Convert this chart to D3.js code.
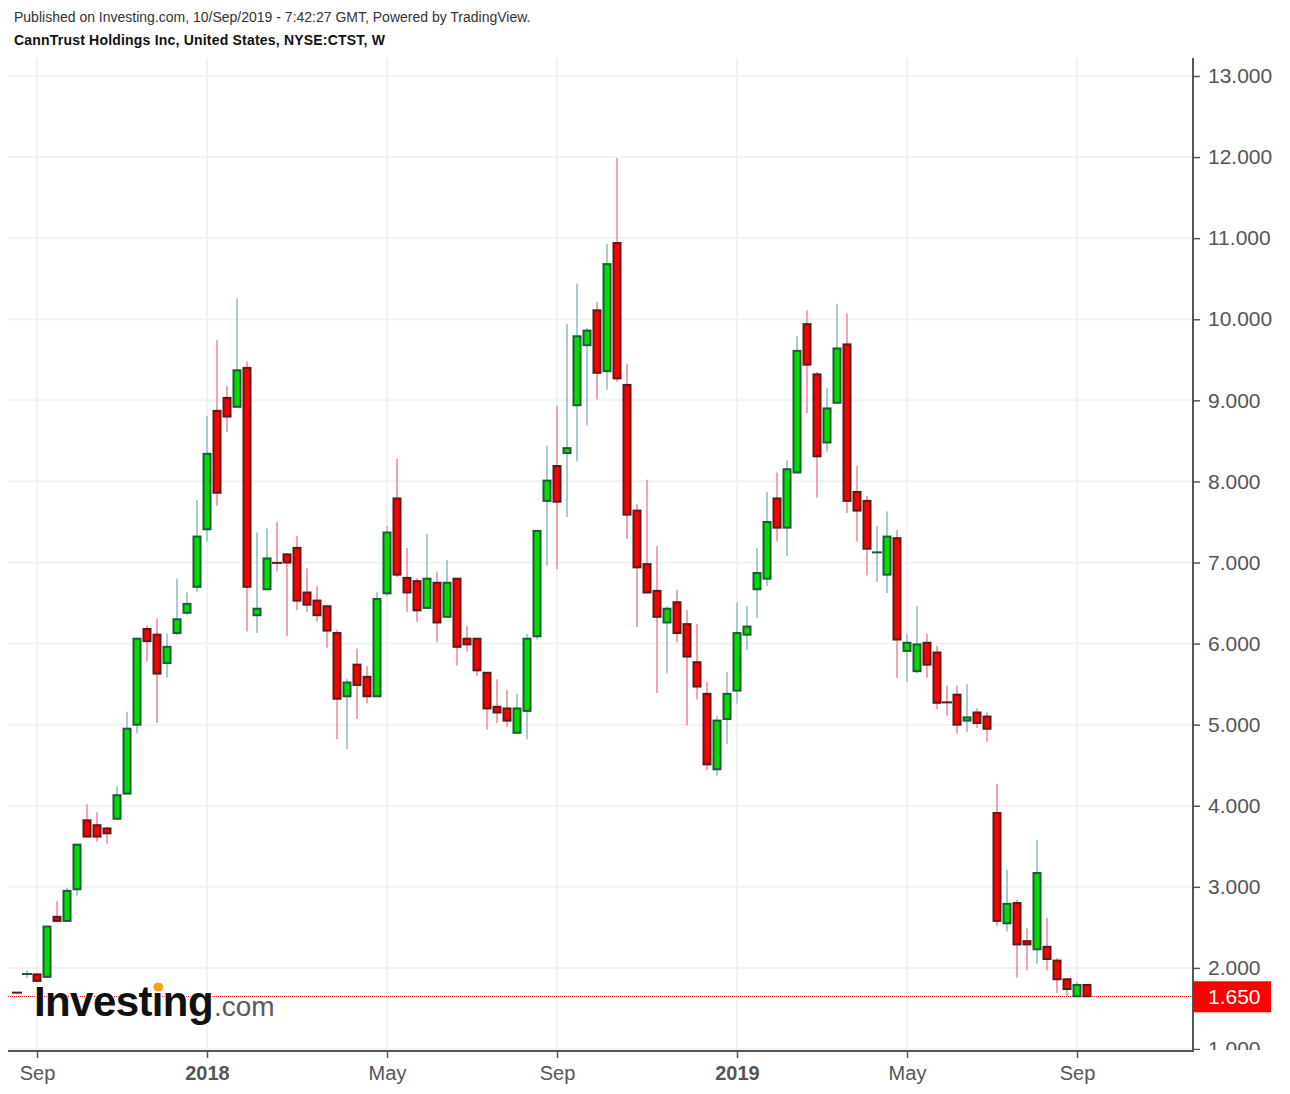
<!DOCTYPE html>
<html>
<head>
<meta charset="utf-8">
<script src="https://cdnjs.cloudflare.com/ajax/libs/d3/7.8.5/d3.min.js"></script>
<style>
  html, body { margin: 0; padding: 0; background: #ffffff; }
  svg { display: block; }
  text { font-family: Arial, "Liberation Sans", Helvetica, sans-serif; }
</style>
</head>
<body>
<svg id="chart" width="1290" height="1094"></svg>
<script>
// ---------------- DATA ----------------
const weeks = [
  "2017-08-21","2017-08-28","2017-09-04","2017-09-11","2017-09-18","2017-09-25","2017-10-02","2017-10-09","2017-10-16","2017-10-23",
  "2017-10-30","2017-11-06","2017-11-13","2017-11-20","2017-11-27","2017-12-04","2017-12-11","2017-12-18","2017-12-25","2018-01-01",
  "2018-01-08","2018-01-15","2018-01-22","2018-01-29","2018-02-05","2018-02-12","2018-02-19","2018-02-26","2018-03-05","2018-03-12",
  "2018-03-19","2018-03-26","2018-04-02","2018-04-09","2018-04-16","2018-04-23","2018-04-30","2018-05-07","2018-05-14","2018-05-21",
  "2018-05-28","2018-06-04","2018-06-11","2018-06-18","2018-06-25","2018-07-02","2018-07-09","2018-07-16","2018-07-23","2018-07-30",
  "2018-08-06","2018-08-13","2018-08-20","2018-08-27","2018-09-03","2018-09-10","2018-09-17","2018-09-24","2018-10-01","2018-10-08",
  "2018-10-15","2018-10-22","2018-10-29","2018-11-05","2018-11-12","2018-11-19","2018-11-26","2018-12-03","2018-12-10","2018-12-17",
  "2018-12-24","2018-12-31","2019-01-07","2019-01-14","2019-01-21","2019-01-28","2019-02-04","2019-02-11","2019-02-18","2019-02-25",
  "2019-03-04","2019-03-11","2019-03-18","2019-03-25","2019-04-01","2019-04-08","2019-04-15","2019-04-22","2019-04-29","2019-05-06",
  "2019-05-13","2019-05-20","2019-05-27","2019-06-03","2019-06-10","2019-06-17","2019-06-24","2019-07-01","2019-07-08","2019-07-15",
  "2019-07-22","2019-07-29","2019-08-05","2019-08-12","2019-08-19","2019-08-26","2019-09-02","2019-09-09"
];
const opens = [
  1.70,1.92,1.92,1.89,2.63,2.58,2.97,3.82,3.76,3.72,
  3.84,4.15,5.00,6.18,6.11,5.76,6.13,6.38,6.70,7.41,
  8.87,9.03,8.92,9.40,6.35,6.67,7.00,7.10,7.18,6.63,
  6.53,6.46,6.13,5.35,5.74,5.59,5.35,6.62,7.79,6.81,
  6.77,6.44,6.75,6.33,6.80,6.06,6.06,5.64,5.22,5.20,
  4.90,5.17,6.09,7.76,8.19,8.35,8.94,9.68,10.11,9.36,
  10.94,9.19,7.64,6.98,6.65,6.26,6.51,6.24,5.77,5.38,
  4.45,5.07,5.42,6.11,6.67,6.80,7.79,7.43,8.11,9.94,
  9.32,8.48,8.97,9.69,7.87,7.76,7.12,6.85,7.30,5.91,
  5.66,6.01,5.89,5.28,5.37,5.05,5.15,5.10,3.91,2.55,
  2.80,2.33,2.23,2.26,2.09,1.86,1.65,1.79
];
const highs = [
  1.70,1.97,1.93,2.52,2.82,2.99,3.53,4.02,3.92,3.74,
  4.24,5.16,6.06,6.22,6.31,6.12,6.80,6.63,7.77,8.81,
  9.74,9.18,10.26,9.48,7.37,7.42,7.50,7.11,7.33,6.93,
  6.71,6.47,6.17,5.57,5.94,5.72,6.64,7.45,8.28,7.18,
  6.81,7.35,6.89,7.03,6.81,6.22,6.07,5.65,5.56,5.43,
  5.38,6.12,7.40,8.44,8.93,9.94,10.44,9.89,10.21,10.93,
  11.99,9.45,7.72,8.02,7.20,6.46,6.66,6.41,6.24,5.53,
  5.11,5.65,6.51,6.46,7.18,7.87,8.11,8.26,9.79,10.11,
  9.35,9.15,10.19,10.07,8.19,7.82,7.45,7.63,7.40,6.12,
  6.46,6.12,5.97,5.48,5.48,5.50,5.20,5.15,4.27,3.21,
  2.84,2.49,3.58,2.62,2.12,1.87,1.83,1.79
];
const lows = [
  1.69,1.88,1.83,1.88,2.57,2.57,2.89,3.61,3.56,3.53,
  3.83,4.15,4.89,5.78,5.02,5.58,6.11,6.35,6.64,7.26,
  7.70,8.61,8.92,6.15,6.13,6.66,6.89,6.09,6.41,6.39,
  6.27,5.95,4.82,4.70,5.07,5.26,5.34,6.59,6.82,6.39,
  6.27,6.43,6.02,6.33,5.73,5.90,5.60,4.94,5.02,4.97,
  4.90,4.82,6.05,6.96,6.92,7.56,8.25,8.69,9.01,9.13,
  9.23,7.29,6.20,6.62,5.39,5.63,6.02,4.99,5.31,4.44,
  4.37,4.76,5.26,5.92,6.32,6.71,7.26,7.08,8.10,8.84,
  7.80,8.37,8.97,7.61,7.26,6.84,6.76,6.62,5.58,5.53,
  5.63,5.58,5.19,5.11,4.89,4.91,4.96,4.79,2.52,2.45,
  1.88,1.97,2.05,1.97,1.69,1.645,1.645,1.645
];
const closes = [
  1.69,1.93,1.84,2.51,2.58,2.95,3.52,3.62,3.62,3.66,
  4.13,4.95,6.06,6.03,5.63,5.96,6.30,6.49,7.32,8.34,
  7.86,8.80,9.37,6.70,6.43,7.05,6.99,7.00,6.53,6.48,
  6.35,6.16,5.32,5.52,5.49,5.35,6.55,7.37,6.85,6.63,
  6.41,6.80,6.26,6.75,5.96,5.99,5.67,5.20,5.15,5.05,
  5.20,6.06,7.39,8.01,7.75,8.41,9.79,9.86,9.34,10.68,
  9.27,7.59,6.94,6.63,6.33,6.43,6.13,5.84,5.47,4.51,
  5.05,5.38,6.13,6.21,6.87,7.50,7.43,8.15,9.61,9.44,
  8.31,8.90,9.64,7.76,7.64,7.17,7.13,7.32,6.05,6.01,
  5.99,5.74,5.27,5.27,5.00,5.09,5.02,4.95,2.58,2.79,
  2.29,2.29,3.17,2.11,1.86,1.74,1.79,1.65
];
const xTickWeeks  = ["2017-09-04","2018-01-01","2018-05-07","2018-09-03","2019-01-07","2019-05-06","2019-09-02"];
const xTickLabels = ["Sep","2018","May","Sep","2019","May","Sep"];
const xTickBold   = [false,true,false,false,true,false,false];
const yTickValues = [1,2,3,4,5,6,7,8,9,10,11,12,13];
const lastPrice = 1.650;
const headerLine1 = "Published on Investing.com, 10/Sep/2019 - 7:42:27 GMT, Powered by TradingView.";
const headerLine2 = "CannTrust Holdings Inc, United States, NYSE:CTST, W";

// ---------------- LAYOUT ----------------
const svg = d3.select("#chart");
const plot = { left: 8, right: 1193, top: 58, bottom: 1051 };

const x = d3.scaleLinear().domain([0, weeks.length - 1]).range([17, 1087]);
const y = d3.scaleLinear().domain([1, 13]).range([1049, 76]);

const data = weeks.map((w, i) => ({ i, w, o: opens[i], h: highs[i], l: lows[i], c: closes[i] }));
const idxOf = w => weeks.indexOf(w);

const COLORS = {
  upFill: "#00dd00", upStroke: "#1f5a3a", upWick: "#a8ccd3",
  dnFill: "#ff0000", dnStroke: "#5c1a18", dnWick: "#f3a4b0",
  grid: "#f2f2f2", axis: "#555555", text: "#555555"
};

// header
svg.append("text").attr("x", 14).attr("y", 22).attr("font-size", 14).attr("fill", "#333").text(headerLine1);
svg.append("text").attr("x", 14).attr("y", 45).attr("font-size", 14).attr("font-weight", "bold")
  .attr("letter-spacing", 0.2).attr("fill", "#111").text(headerLine2);

// clip
svg.append("clipPath").attr("id", "plotclip").append("rect")
  .attr("x", plot.left).attr("y", plot.top).attr("width", plot.right - plot.left).attr("height", plot.bottom - plot.top);

const grid = svg.append("g").attr("clip-path", "url(#plotclip)");
grid.selectAll("line.h").data(yTickValues).join("line")
  .attr("x1", plot.left).attr("x2", plot.right)
  .attr("y1", d => y(d)).attr("y2", d => y(d))
  .attr("stroke", COLORS.grid).attr("stroke-width", 2);
grid.selectAll("line.v").data(xTickWeeks).join("line")
  .attr("y1", plot.top).attr("y2", plot.bottom)
  .attr("x1", d => x(idxOf(d))).attr("x2", d => x(idxOf(d)))
  .attr("stroke", COLORS.grid).attr("stroke-width", 2);

// last price dotted line
grid.append("line")
  .attr("x1", plot.left).attr("x2", plot.right)
  .attr("y1", Math.round(y(lastPrice)) + 0.5).attr("y2", Math.round(y(lastPrice)) + 0.5)
  .attr("stroke", "#ff2020").attr("stroke-width", 1).attr("stroke-dasharray", "1,1");

// candles
const cg = svg.append("g").attr("clip-path", "url(#plotclip)");
const isUp = d => d.c >= d.o;
cg.selectAll("line.wick").data(data).join("line")
  .attr("x1", d => x(d.i)).attr("x2", d => x(d.i))
  .attr("y1", d => y(d.h)).attr("y2", d => y(d.l))
  .attr("stroke", d => isUp(d) ? COLORS.upWick : COLORS.dnWick)
  .attr("stroke-width", 2);

const bodyW = 7;
const thin = d => Math.abs(y(d.o) - y(d.c)) < 1.5;
cg.selectAll("rect.body").data(data.filter(d => !thin(d))).join("rect")
  .attr("x", d => x(d.i) - bodyW / 2)
  .attr("y", d => y(Math.max(d.o, d.c)))
  .attr("width", bodyW)
  .attr("height", d => Math.abs(y(d.o) - y(d.c)))
  .attr("fill", d => isUp(d) ? COLORS.upFill : COLORS.dnFill)
  .attr("stroke", d => isUp(d) ? COLORS.upStroke : COLORS.dnStroke)
  .attr("stroke-width", 2);
cg.selectAll("line.doji").data(data.filter(thin)).join("line")
  .attr("x1", d => x(d.i) - 5).attr("x2", d => x(d.i) + 5)
  .attr("y1", d => y((d.o + d.c) / 2)).attr("y2", d => y((d.o + d.c) / 2))
  .attr("stroke", d => isUp(d) ? COLORS.upStroke : COLORS.dnStroke)
  .attr("stroke-width", 2);

// y axis (right)
svg.append("clipPath").attr("id", "yclip").append("rect")
  .attr("x", -2).attr("y", 0).attr("width", 120).attr("height", plot.bottom - 1);
const yAxis = d3.axisRight(y).tickValues(yTickValues).tickFormat(d3.format(".3f")).tickSize(7).tickPadding(8);
const yg = svg.append("g").attr("transform", `translate(${plot.right},0)`).attr("clip-path", "url(#yclip)").call(yAxis);
yg.select(".domain").remove();
yg.selectAll(".tick line").attr("stroke", COLORS.axis).attr("stroke-width", 1.5);
yg.selectAll(".tick text").attr("font-size", 21).attr("fill", COLORS.text)
  .attr("font-family", "Arial, 'Liberation Sans', sans-serif");
svg.append("line").attr("x1", plot.right).attr("x2", plot.right).attr("y1", plot.top).attr("y2", plot.bottom + 1)
  .attr("stroke", COLORS.axis).attr("stroke-width", 2);

// x axis
const xAxis = d3.axisBottom(x).tickValues(xTickWeeks.map(idxOf))
  .tickFormat((d, k) => xTickLabels[k]).tickSize(7).tickPadding(8);
const xg = svg.append("g").attr("transform", `translate(0,${plot.bottom})`).call(xAxis);
xg.select(".domain").remove();
xg.selectAll(".tick line").attr("stroke", COLORS.axis).attr("stroke-width", 1.5);
xg.selectAll(".tick text").attr("font-size", 20).attr("fill", COLORS.text)
  .attr("font-weight", (d, k) => xTickBold[k] ? "bold" : "normal")
  .attr("font-family", "Arial, 'Liberation Sans', sans-serif");
svg.append("line").attr("x1", plot.left).attr("x2", plot.right + 1).attr("y1", plot.bottom).attr("y2", plot.bottom)
  .attr("stroke", COLORS.axis).attr("stroke-width", 2);

// last price label
const ly = y(lastPrice);
svg.append("rect").attr("x", plot.right).attr("y", ly - 15).attr("width", 78).attr("height", 31).attr("fill", "#ff0000");
svg.append("text").attr("x", plot.right + 15).attr("y", ly).attr("dy", "0.35em")
  .attr("font-size", 21).attr("fill", "#ffffff").text(d3.format(".3f")(lastPrice));

// watermark logo
const logo = svg.append("g");
const inv = logo.append("text").attr("x", 34).attr("y", 1016).attr("font-size", 42).attr("font-weight", "bold")
  .attr("fill", "#111").attr("stroke", "#fff").attr("stroke-width", 2).attr("paint-order", "stroke")
  .attr("letter-spacing", -0.6).text("Investing");
const bb = inv.node().getBBox();
logo.append("text").attr("x", bb.x + bb.width + 1).attr("y", 1016).attr("font-size", 28)
  .attr("fill", "#5a5a5a").text(".com");
try {
  const ext = inv.node().getExtentOfChar(6);
  logo.append("ellipse").attr("cx", ext.x + ext.width / 2).attr("cy", 987).attr("rx", 6.5).attr("ry", 6)
    .attr("fill", "#ffffff");
  logo.append("ellipse").attr("cx", ext.x + ext.width / 2 + 1).attr("cy", 987).attr("rx", 5).attr("ry", 4.5)
    .attr("fill", "#f5a21b");
} catch (e) {}
</script>
</body>
</html>
